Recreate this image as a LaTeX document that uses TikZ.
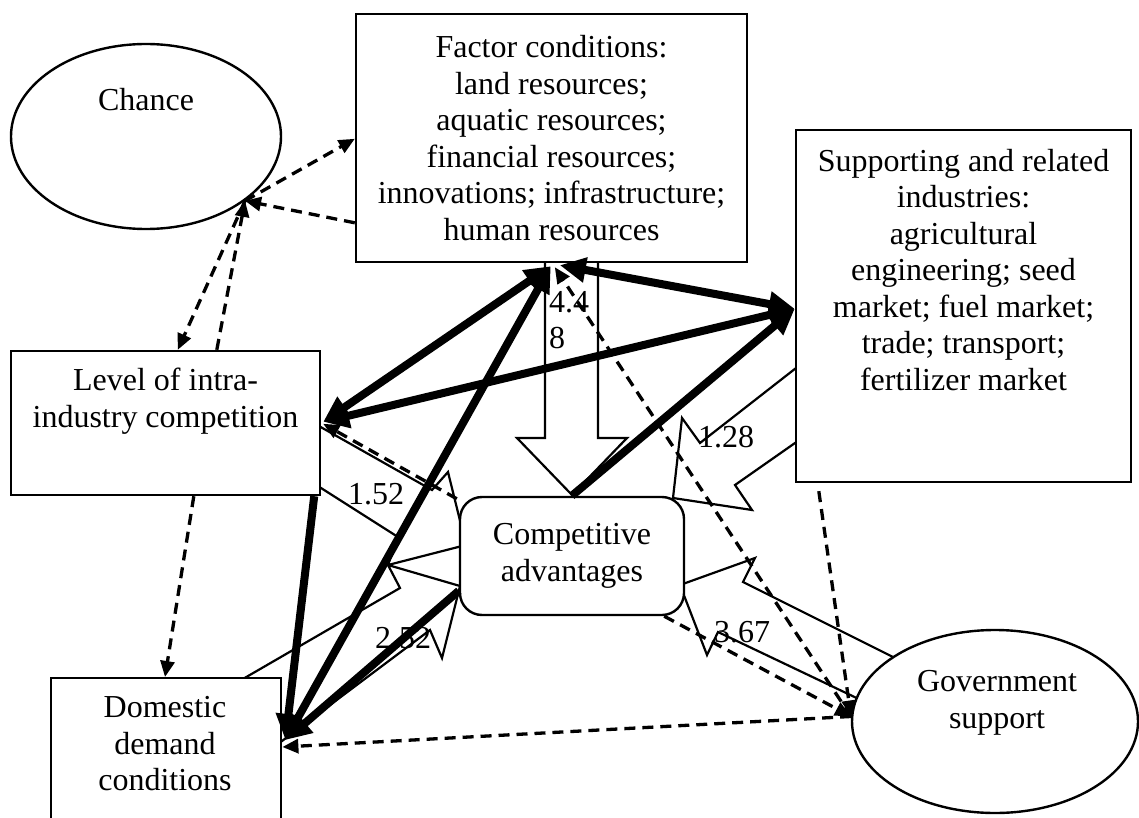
\documentclass[tikz,border=0pt]{standalone}
\usepackage{fontspec}
\setmainfont{Liberation Serif}
\usetikzlibrary{shapes.geometric,arrows.meta,calc}
\begin{document}
\begin{tikzpicture}[x=1pt,y=-1pt,
  every node/.style={font=\fontsize{32}{36.5}\selectfont, inner sep=0pt, align=center},
  box/.style={draw, line width=2.4pt, fill=white, rectangle, inner sep=0pt},
  oval/.style={draw, line width=2.4pt, fill=white, ellipse, inner sep=0pt},
  rbox/.style={draw, line width=2.4pt, fill=white, rounded corners=22pt, rectangle},
  blk/.style={draw, line width=2.2pt, line join=miter},
  dsh/.style={line width=3.3pt, dash pattern=on 11pt off 7pt, -{Triangle[length=16pt,width=14pt]}},
  thk/.style={line width=8pt, -{Triangle[length=26pt,width=24pt]}},
  thkk/.style={line width=8pt, {Triangle[length=26pt,width=24pt]}-{Triangle[length=26pt,width=24pt]}}
]
\useasboundingbox (0,0) rectangle (1139,818);

% block arrows (outlines)
\draw[blk] (545,250) -- (545,438) -- (517,438) -- (572,495) -- (627,438) -- (598,438) -- (598,250);
\draw[blk] (805,361) -- (700,443) -- (682,418) -- (673,498) -- (752,510) -- (735,485) -- (805,436);
\draw[blk] (310,421) -- (432,490) -- (448,472) -- (466,545) -- (388,565) -- (398,537) -- (310,481);
\draw[blk] (236,683) -- (400,588) -- (388,565) -- (460,586) -- (442,658) -- (430,630) -- (270,750);
\draw[blk] (903,662) -- (743,582) -- (755,558) -- (680,585) -- (707,655) -- (718,632) -- (865,702);

% boxes
\node[box, minimum width=391pt, minimum height=248pt] (factor) at (551.5,138)
  {Factor conditions:\\land resources;\\aquatic resources;\\financial resources;\\innovations; infrastructure;\\human resources};
\node[box, minimum width=335pt, minimum height=352pt] (supp) at (963.5,306) {};
\node (suppT) at (963.5,270) {Supporting and related\\industries:\\agricultural\\engineering; seed\\market; fuel market;\\trade; transport;\\fertilizer market};
\node[box, minimum width=309pt, minimum height=144pt] (level) at (165.5,423) {};
\node (levelT) at (165.5,401) {Level of intra-\\industry competition};
\node[box, minimum width=230pt, minimum height=160pt, anchor=north west] (dom) at (50,677) {};
\node (domT) at (165,744) {Domestic\\demand\\conditions};
\node[rbox, minimum width=224pt, minimum height=118pt] (comp) at (572,556) {Competitive\\advantages};
\node[oval, minimum width=286pt, minimum height=183pt] (gov) at (995,721.5) {};
\node (govT) at (997,703) {Government\\support};
\node[oval, minimum width=270pt, minimum height=185pt] (chance) at (146,136.5) {};
\node (chanceT) at (146,100) {Chance};

% numbers
\node[anchor=west, align=left] (n448) at (549,320) {4.4\\8};
\node (n128) at (726,437) {1.28};
\node (n152) at (376,494) {1.52};
\node (n252) at (403,638) {2.52};
\node (n367) at (742,632) {3.67};

% dashed connectors
\draw[dsh] (chance.-33) -- ($(factor.north west)+(0,126)$);
\draw[dsh] ($(factor.north west)+(0,210)$) -- (chance.-33);
\draw[dsh] (chance.-33) -- ($(level.north west)+(168,0)$);
\draw[dsh] ($(level.north west)+(207,0)$) -- (chance.-33);
\draw[dsh] ($(level.south west)+(184,0)$) -- ($(dom.north west)+(115,0)$);
\draw[dsh] (gov.178) -- ($(dom.north east)+(0,70)$);
\draw[dsh] ($(supp.south west)+(24,8)$) -- (gov.178);
\draw[dsh] ($(comp.south east)+(-21,0)$) -- (gov.178);
\draw[dsh] (gov.178) -- ($(factor.south west)+(200,4)$);
\draw[dsh] ($(comp.north west)+(-2,3)$) -- ($(level.north east)+(2,74)$);

% thick connectors
\draw[thkk] ($(factor.south west)+(196,3)$) -- ($(level.north east)+(2,72)$);
\draw[thkk] ($(factor.south west)+(196,3)$) -- ($(dom.north east)+(3,63)$);
\draw[thkk] ($(factor.south west)+(205,2)$) -- ($(supp.north west)+(0,180)$);
\draw[thkk] ($(supp.north west)+(0,180)$) -- ($(level.north east)+(2,72)$);
\draw[thk] ($(comp.north west)+(113,0)$) -- ($(supp.north west)+(0,180)$);
\draw[thk] ($(comp.north west)+(0,95)$) -- ($(dom.north east)+(3,63)$);
\draw[thk] ($(level.south east)+(-7,0)$) -- ($(dom.north east)+(3,63)$);
\end{tikzpicture}
\end{document}
